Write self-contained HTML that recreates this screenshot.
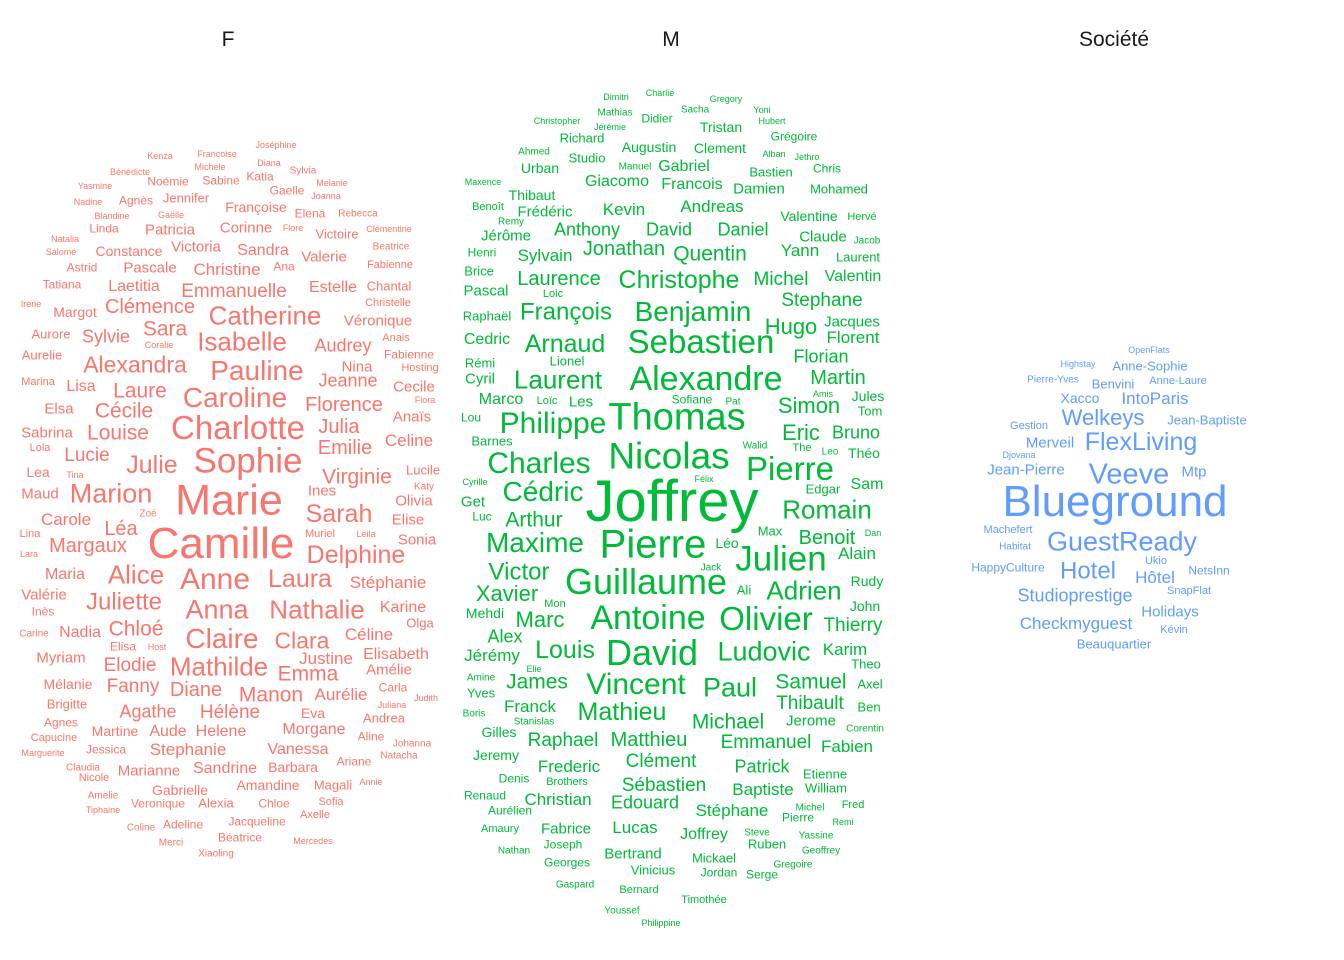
<!DOCTYPE html>
<html><head><meta charset="utf-8"><title>Word clouds by category</title>
<style>
html,body{margin:0;padding:0;background:#fff;}
svg{display:block;font-family:"Liberation Sans",Arial,sans-serif;}
</style></head>
<body>
<svg id="chart" width="1344" height="960" viewBox="0 0 1344 960">
<rect width="1344" height="960" fill="#fff"/>
<text x="228" y="46" text-anchor="middle" font-size="21" fill="#1a1a1a">F</text>
<text x="671" y="46" text-anchor="middle" font-size="21" fill="#1a1a1a">M</text>
<text x="1114" y="46" text-anchor="middle" font-size="21" fill="#1a1a1a">Société</text>
<g id="cloud"></g>
</svg>
<script>
// [word, centerX, centerY, fontSize]
const fWords = [
["Joséphine",276,145,9],["Francoise",217,154,9],["Kenza",160,156,9],["Michele",210,167,9],["Diana",269,163,9],["Sylvia",303,170,10],["Bénédicte",130,172,9],["Noémie",168,181,12],["Sabine",221,180,12],["Katia",260,176,12],["Melanie",332,183,9],["Yasmine",95,186,9],["Gaelle",287,190,12],["Joanna",326,196,9],["Agnès",136,200,12],["Jennifer",186,198,13],["Nadine",88,202,9],["Françoise",256,207,14],["Rebecca",358,213,10],["Elena",310,213,12],["Blandine",112,216,9],["Gaëlle",171,215,9],["Linda",104,228,12],["Patricia",170,229,15],["Corinne",246,227,15],["Flore",293,228,9],["Victoire",337,234,13],["Clémentine",389,229,9],["Natalia",65,239,9],["Constance",129,251,14],["Victoria",196,246,15],["Sandra",263,249,16],["Valerie",324,256,15],["Beatrice",391,246,10],["Salomé",61,252,9],["Astrid",82,267,12],["Pascale",150,267,15],["Christine",227,269,17],["Ana",284,266,12],["Fabienne",390,264,11],["Tatiana",62,284,12],["Laetitia",134,285,16],["Emmanuelle",234,290,19],["Estelle",333,286,16],["Chantal",389,286,13],["Irene",31,304,9],["Margot",75,312,14],["Clémence",150,306,20],["Catherine",265,315,26],["Christelle",388,302,11],["Véronique",378,320,15],["Aurore",51,334,13],["Sylvie",106,336,18],["Sara",165,328,21],["Anais",396,337,11],["Isabelle",242,341,26],["Coralie",159,345,9],["Audrey",343,345,18],["Aurelie",42,355,13],["Fabienne",409,354,12],["Alexandra",135,364,23],["Pauline",257,370,28],["Nina",357,366,15],["Hosting",420,367,11],["Marina",38,381,11],["Jeanne",348,380,18],["Lisa",81,385,16],["Laure",140,390,21],["Cecile",414,386,15],["Caroline",235,397,28],["Flora",425,400,9],["Elsa",59,408,15],["Florence",344,404,20],["Cécile",124,410,21],["Anaïs",412,416,15],["Sabrina",47,432,15],["Louise",118,432,21],["Charlotte",238,427,33],["Julia",339,426,20],["Emilie",345,447,20],["Celine",409,440,17],["Lola",40,447,11],["Lucie",87,454,19],["Julie",152,464,25],["Sophie",248,460,35],["Virginie",357,476,21],["Lucile",423,470,13],["Lea",38,472,14],["Tina",75,475,9],["Katy",424,486,10],["Maud",40,493,15],["Marion",111,493,27],["Marie",229,499,43],["Ines",322,490,15],["Olivia",414,500,15],["Sarah",339,513,25],["Zoé",148,513,10],["Carole",66,519,17],["Elise",408,519,15],["Léa",121,528,20],["Lina",30,533,11],["Muriel",320,533,11],["Leila",366,534,9],["Camille",221,542,44],["Sonia",417,539,15],["Margaux",88,545,20],["Delphine",356,554,25],["Lara",29,554,9],["Maria",65,573,16],["Alice",136,574,26],["Anne",215,578,30],["Laura",300,578,25],["Stéphanie",388,582,17],["Valérie",44,594,15],["Juliette",124,601,24],["Inès",43,611,12],["Anna",217,609,27],["Nathalie",317,609,26],["Karine",403,606,16],["Olga",420,623,13],["Carine",34,633,10],["Nadia",80,631,16],["Chloé",136,628,21],["Claire",222,638,28],["Clara",302,640,23],["Céline",369,634,17],["Elisa",123,646,12],["Host",157,647,9],["Myriam",61,657,15],["Justine",326,658,17],["Elisabeth",396,653,16],["Elodie",130,664,19],["Mathilde",219,666,26],["Emma",308,673,21],["Amélie",389,669,15],["Mélanie",68,684,14],["Fanny",133,685,19],["Diane",196,689,20],["Carla",393,687,12],["Manon",271,694,21],["Aurélie",341,694,17],["Judith",426,698,9],["Brigitte",67,704,13],["Agathe",148,711,18],["Hélène",230,711,19],["Juliana",392,705,9],["Eva",313,713,14],["Andrea",384,718,13],["Agnes",61,722,12],["Martine",115,731,14],["Aude",168,730,16],["Helene",221,730,16],["Morgane",314,728,16],["Capucine",54,737,11],["Aline",371,736,12],["Johanna",412,743,10],["Marguerite",43,753,9],["Jessica",106,749,12],["Stephanie",188,749,17],["Vanessa",298,748,16],["Natacha",399,755,10],["Claudia",83,767,10],["Marianne",149,770,15],["Sandrine",225,767,16],["Barbara",293,767,14],["Ariane",354,761,12],["Nicole",94,777,11],["Amandine",268,785,14],["Magali",333,785,13],["Annie",371,782,9],["Gabrielle",180,790,14],["Amelie",103,795,10],["Veronique",158,803,12],["Alexia",216,803,13],["Chloe",274,803,12],["Sofia",331,801,11],["Tiphaine",103,810,9],["Axelle",315,814,11],["Jacqueline",257,821,12],["Coline",141,827,10],["Adeline",183,824,12],["Béatrice",240,837,12],["Mercedes",313,841,9],["Merci",171,842,10],["Xiaoling",216,853,10]
];
const mWords = [
["Dimitri",616,97,9],["Charlie",660,93,9],["Gregory",726,99,9],["Mathias",615,112,10],["Sacha",695,109,10],["Yoni",762,110,9],["Didier",657,118,12],["Christopher",557,121,9],["Jérémie",610,127,9],["Hubert",772,121,9],["Tristan",721,127,14],["Richard",582,138,13],["Grégoire",794,136,12],["Ahmed",534,151,10],["Augustin",649,147,14],["Clement",720,148,14],["Alban",774,154,9],["Studio",587,158,13],["Jethro",807,157,9],["Urban",540,168,14],["Manuel",635,166,10],["Gabriel",684,165,16],["Bastien",771,172,13],["Chris",827,168,12],["Giacomo",617,180,16],["Francois",692,183,16],["Damien",759,188,15],["Maxence",483,182,9],["Mohamed",839,189,13],["Thibaut",532,195,14],["Benoît",488,206,11],["Frédéric",545,211,15],["Kevin",624,209,17],["Andreas",712,206,17],["Valentine",809,216,14],["Hervé",862,216,11],["Remy",511,221,10],["Jérôme",506,235,15],["Anthony",587,229,18],["David",669,229,18],["Daniel",743,229,18],["Claude",823,236,15],["Jacob",867,240,10],["Henri",482,252,12],["Sylvain",545,255,17],["Jonathan",624,248,20],["Quentin",710,253,21],["Yann",800,250,17],["Laurent",858,257,13],["Brice",479,271,13],["Laurence",559,278,20],["Christophe",679,279,25],["Michel",781,278,19],["Valentin",853,275,16],["Pascal",486,290,15],["Loic",553,293,11],["Stephane",822,299,19],["Raphaël",487,316,13],["François",566,311,24],["Benjamin",693,311,28],["Hugo",791,326,22],["Jacques",852,321,15],["Florent",853,337,17],["Cedric",487,338,16],["Arnaud",565,343,25],["Sebastien",701,341,33],["Lionel",567,361,13],["Florian",821,356,18],["Rémi",480,363,13],["Cyril",480,378,15],["Laurent",558,379,26],["Alexandre",706,378,34],["Martin",838,377,20],["Amis",823,394,9],["Jules",868,396,14],["Marco",501,398,16],["Loïc",547,400,11],["Les",581,401,15],["Sofiane",692,399,12],["Pat",733,401,10],["Simon",809,405,22],["Tom",870,411,13],["Lou",471,417,12],["Philippe",553,422,30],["Thomas",677,416,38],["Eric",801,432,22],["Bruno",856,432,18],["Barnes",492,441,13],["Walid",755,445,10],["The",802,447,11],["Leo",830,451,10],["Théo",864,453,14],["Charles",539,462,30],["Nicolas",669,455,37],["Pierre",790,468,33],["Félix",704,479,9],["Cyrille",475,482,9],["Sam",867,483,16],["Cédric",543,491,28],["Joffrey",672,500,58],["Edgar",823,489,13],["Get",473,501,15],["Romain",827,509,26],["Luc",482,516,12],["Arthur",534,519,21],["Max",770,531,13],["Benoit",827,537,20],["Dan",873,533,9],["Maxime",535,542,28],["Pierre",653,543,40],["Léo",727,543,14],["Julien",781,558,35],["Alain",857,553,17],["Jack",711,567,10],["Victor",519,571,24],["Guillaume",646,581,36],["Ali",744,590,13],["Adrien",804,590,26],["Rudy",867,581,14],["Xavier",507,593,22],["Mon",555,603,11],["John",865,606,14],["Mehdi",485,613,14],["Marc",540,619,22],["Antoine",648,617,34],["Olivier",766,618,33],["Thierry",853,624,19],["Alex",505,636,18],["Louis",565,649,25],["David",652,652,36],["Ludovic",764,651,27],["Karim",845,649,17],["Jérémy",492,655,17],["Elie",534,669,9],["Theo",866,664,13],["Amine",481,677,10],["James",537,681,21],["Vincent",636,683,30],["Paul",730,687,27],["Samuel",811,681,21],["Axel",870,684,13],["Yves",481,693,13],["Thibault",810,702,19],["Boris",474,713,10],["Franck",530,706,17],["Mathieu",622,711,25],["Ben",869,707,13],["Stanislas",534,721,10],["Michael",728,721,21],["Jerome",811,720,15],["Corentin",865,728,10],["Gilles",499,732,14],["Raphael",563,739,19],["Matthieu",649,739,20],["Emmanuel",766,741,19],["Fabien",847,746,17],["Jeremy",496,755,14],["Clément",661,760,19],["Frederic",569,766,17],["Patrick",762,766,18],["Etienne",825,774,13],["Denis",514,778,12],["Brothers",567,781,11],["Sébastien",664,784,19],["William",826,788,13],["Renaud",485,795,12],["Christian",558,799,17],["Baptiste",763,789,17],["Aurélien",510,810,12],["Edouard",645,802,18],["Stéphane",732,810,17],["Michel",810,807,10],["Fred",853,804,11],["Pierre",798,817,12],["Remi",843,822,9],["Amaury",500,828,11],["Fabrice",566,828,15],["Lucas",635,827,17],["Joffrey",704,833,16],["Steve",757,832,10],["Yassine",816,835,10],["Joseph",563,844,12],["Ruben",767,844,13],["Nathan",514,850,10],["Bertrand",633,853,15],["Geoffrey",821,850,10],["Georges",567,862,12],["Mickael",714,858,13],["Vinicius",653,870,13],["Gregoire",793,864,10],["Jordan",719,872,12],["Serge",762,874,12],["Gaspard",575,884,10],["Bernard",639,889,11],["Timothée",704,899,11],["Youssef",622,910,10],["Philippine",661,923,9]
];
const sWords = [
["OpenFlats",1149,350,9],["Highstay",1078,364,9],["Anne-Sophie",1150,366,13],["Pierre-Yves",1053,379,10],["Benvini",1113,384,13],["Anne-Laure",1178,380,11],["Xacco",1080,398,14],["IntoParis",1155,398,17],["Welkeys",1103,417,22],["Gestion",1029,425,11],["Jean-Baptiste",1207,420,13],["Merveil",1050,442,15],["FlexLiving",1141,441,25],["Djovana",1019,455,9],["Jean-Pierre",1026,469,15],["Veeve",1129,473,29],["Mtp",1194,471,15],["Blueground",1115,500,44],["Machefert",1008,529,11],["GuestReady",1122,541,27],["Habitat",1015,546,10],["Ukio",1156,560,11],["HappyCulture",1008,567,12],["Hotel",1088,570,24],["Hôtel",1155,577,17],["NetsInn",1209,570,12],["SnapFlat",1189,590,11],["Studioprestige",1075,595,18],["Holidays",1170,611,15],["Checkmyguest",1076,623,17],["Kévin",1174,629,11],["Beauquartier",1114,644,13]
];
const panelColors = ["#F8766D","#00BA38","#619CFF"];
const panelNames = ["f","m","societe"];

const NS = "http://www.w3.org/2000/svg";
const cloud = document.getElementById("cloud");
[fWords, mWords, sWords].forEach((words, p) => {
  const g = document.createElementNS(NS, "g");
  
  
  g.setAttribute("fill", panelColors[p]);
  words.forEach(w => {
    const t = document.createElementNS(NS, "text");
    t.setAttribute("x", w[1]);
    t.setAttribute("y", w[2] + w[3] * 0.36);
    t.setAttribute("font-size", w[3]);
    t.setAttribute("text-anchor", "middle");
    t.textContent = w[0];
    
    
    g.appendChild(t);
  });
  cloud.appendChild(g);
});
</script>
</body></html>
